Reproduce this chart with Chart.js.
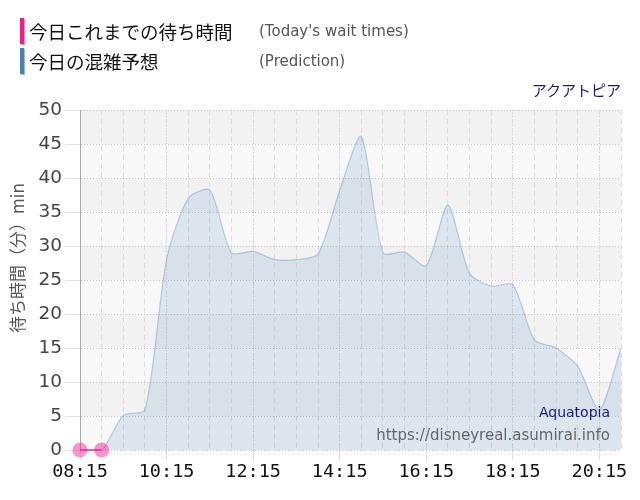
<!DOCTYPE html>
<html>
<head>
<meta charset="utf-8">
<script src="https://cdn.jsdelivr.net/npm/chart.js@4.4.1/dist/chart.umd.min.js"></script>
<style>
  body { margin: 0; background: #fff; font-family: "Noto Sans CJK JP", sans-serif; }
  #wrap { position: relative; width: 640px; height: 500px; }
  #chart { position: absolute; left: 0; top: 0; }
  .leg { position: absolute; left: 20px; height: 26px; line-height: 26px; font-size: 18.5px; color: #111; white-space: nowrap; }
  .leg .bar { position: absolute; left: 0; top: 0; width: 4px; height: 26px; box-shadow: 1px 1px 1px #aaa; }
  .leg .jp { position: absolute; left: 9px; top: 0; }
  .leg .en { position: absolute; left: 239px; top: 0; font-family: "DejaVu Sans", sans-serif; font-size: 15px; color: #555; }
  #ride { position: absolute; right: 19px; top: 79px; font-size: 15px; color: #1c1c6e; }
</style>
</head>
<body>
<div id="wrap">
  <canvas id="chart" width="640" height="500"></canvas>
  <div class="leg" style="top:18px"><span class="bar" style="background:#ff1493"></span><span class="jp">今日これまでの待ち時間</span><span class="en">(Today's wait times)</span></div>
  <div class="leg" style="top:48px"><span class="bar" style="background:#4682b4"></span><span class="jp">今日の混雑予想</span><span class="en">(Prediction)</span></div>
  <div id="ride">アクアトピア</div>
</div>
<script>
// 予想 (30分ごと)
const times = ['08:15','08:45','09:15','09:45','10:15','10:45','11:15','11:45','12:15','12:45',
  '13:15','13:45','14:15','14:45','15:15','15:45','16:15','16:45','17:15','17:45',
  '18:15','18:45','19:15','19:45','20:15','20:45'];
const predicted = [0, 0, 5.1, 5.9, 28, 37, 38.2, 29, 29.2, 28,
  28, 28.8, 38.2, 46.1, 29, 29.1, 27.1, 36, 26, 24.1,
  24.3, 16.2, 15, 12.3, 5.9, 15];

// 実績
const actualTimes = ['08:15','08:45'];
const actual = [0, 0];

const xLabels = ['08:15','10:15','12:15','14:15','16:15','18:15','20:15'];
const yTicks = [0, 5, 10, 15, 20, 25, 30, 35, 40, 45, 50];

const START = 8 * 60 + 15;
function toMin(t) {
  const [h, m] = t.split(':').map(Number);
  return h * 60 + m - START;
}
function fmt(v) {
  const t = START + v;
  return String(Math.floor(t / 60)).padStart(2, '0') + ':' + String(t % 60).padStart(2, '0');
}

// 背景の縞
const bandPlugin = {
  id: 'bands',
  beforeDraw(chart) {
    const { ctx, chartArea, scales } = chart;
    const y = scales.y;
    ctx.save();
    for (let i = 0; i < yTicks.length - 1; i++) {
      const top = y.getPixelForValue(yTicks[i + 1]);
      const bottom = y.getPixelForValue(yTicks[i]);
      ctx.fillStyle = (yTicks.length - 2 - i) % 2 === 0 ? '#f2f2f2' : '#f8f8f8';
      ctx.fillRect(chartArea.left, top, chartArea.right - chartArea.left, bottom - top);
    }
    ctx.restore();
  }
};

// 縦軸タイトルとクレジット
const stampPlugin = {
  id: 'stamp',
  afterDatasetsDraw(chart) {
    const { ctx, chartArea } = chart;
    ctx.save();
    ctx.textAlign = 'right';
    ctx.textBaseline = 'middle';
    ctx.font = '14px "DejaVu Sans", sans-serif';
    ctx.fillStyle = '#1c1c6e';
    ctx.fillText('Aquatopia', chartArea.right - 11, chartArea.bottom - 37);
    ctx.font = '15px "DejaVu Sans", sans-serif';
    ctx.fillStyle = '#666';
    ctx.fillText('https://disneyreal.asumirai.info', chartArea.right - 11, chartArea.bottom - 14);
    ctx.restore();

    ctx.save();
    ctx.translate(18, 258);
    ctx.rotate(-Math.PI / 2);
    ctx.textAlign = 'center';
    ctx.textBaseline = 'middle';
    ctx.font = '17px "Noto Sans CJK JP", sans-serif';
    ctx.fillStyle = '#555';
    ctx.fillText('待ち時間（分）min', 0, 0);
    ctx.restore();
  }
};

new Chart(document.getElementById('chart'), {
  type: 'line',
  data: {
    datasets: [
      {
        label: '今日これまでの待ち時間',
        data: actualTimes.map((t, i) => ({ x: toMin(t), y: actual[i] })),
        borderColor: 'rgba(190, 70, 150, 0.75)',
        borderWidth: 2,
        backgroundColor: 'rgba(255, 20, 147, 0.45)',
        pointBackgroundColor: 'rgba(255, 20, 147, 0.45)',
        pointBorderWidth: 0,
        pointRadius: 7.5,
        fill: false,
        clip: false,
      },
      {
        label: '今日の混雑予想',
        data: times.map((t, i) => ({ x: toMin(t), y: predicted[i] })),
        borderColor: 'rgba(70, 130, 180, 0.35)',
        borderWidth: 1.2,
        backgroundColor: 'rgba(70, 130, 180, 0.15)',
        pointRadius: 0,
        fill: 'origin',
        tension: 0.25,
      },
    ],
  },
  options: {
    responsive: false,
    animation: false,
    layout: { padding: { top: 110, right: 19, left: 0, bottom: 0 } },
    plugins: {
      legend: { display: false },
      tooltip: { enabled: false },
    },
    scales: {
      x: {
        type: 'linear',
        min: 0,
        max: toMin('20:45'),
        afterBuildTicks: (scale) => { scale.ticks = xLabels.map(l => ({ value: toMin(l) })); },
        afterFit: (scale) => { scale.height = 50; },
        ticks: {
          callback: (v) => fmt(v),
          font: { family: '"DejaVu Sans Mono", monospace', size: 18.5 },
          color: '#111',
          padding: 1,
          maxRotation: 0,
          autoSkip: false,
        },
        grid: { color: '#c8c8c8', tickColor: '#e0e0e0', tickLength: 10 },
        border: { display: false, dash: [1, 2] },
      },
      x2: {
        type: 'linear',
        position: 'top',
        min: 0,
        max: toMin('20:45'),
        afterBuildTicks: (scale) => { scale.ticks = times.map(t => ({ value: toMin(t) })); },
        ticks: { display: false },
        grid: { color: '#dcdcdc', drawTicks: false },
        border: { display: false, dash: [5, 4] },
      },
      y: {
        min: 0,
        max: 50,
        afterBuildTicks: (scale) => { scale.ticks = yTicks.map(v => ({ value: v })); },
        afterFit: (scale) => { scale.width = 80; },
        ticks: {
          font: { family: '"DejaVu Sans", sans-serif', size: 18.5 },
          color: '#444',
          padding: 3,
        },
        grid: { color: '#c4c4c4', tickColor: '#e4e4e4', tickLength: 15 },
        border: { display: true, color: '#aaa', width: 1, dash: [1, 2] },
      },
    },
  },
  plugins: [bandPlugin, stampPlugin],
});
</script>
</body>
</html>
